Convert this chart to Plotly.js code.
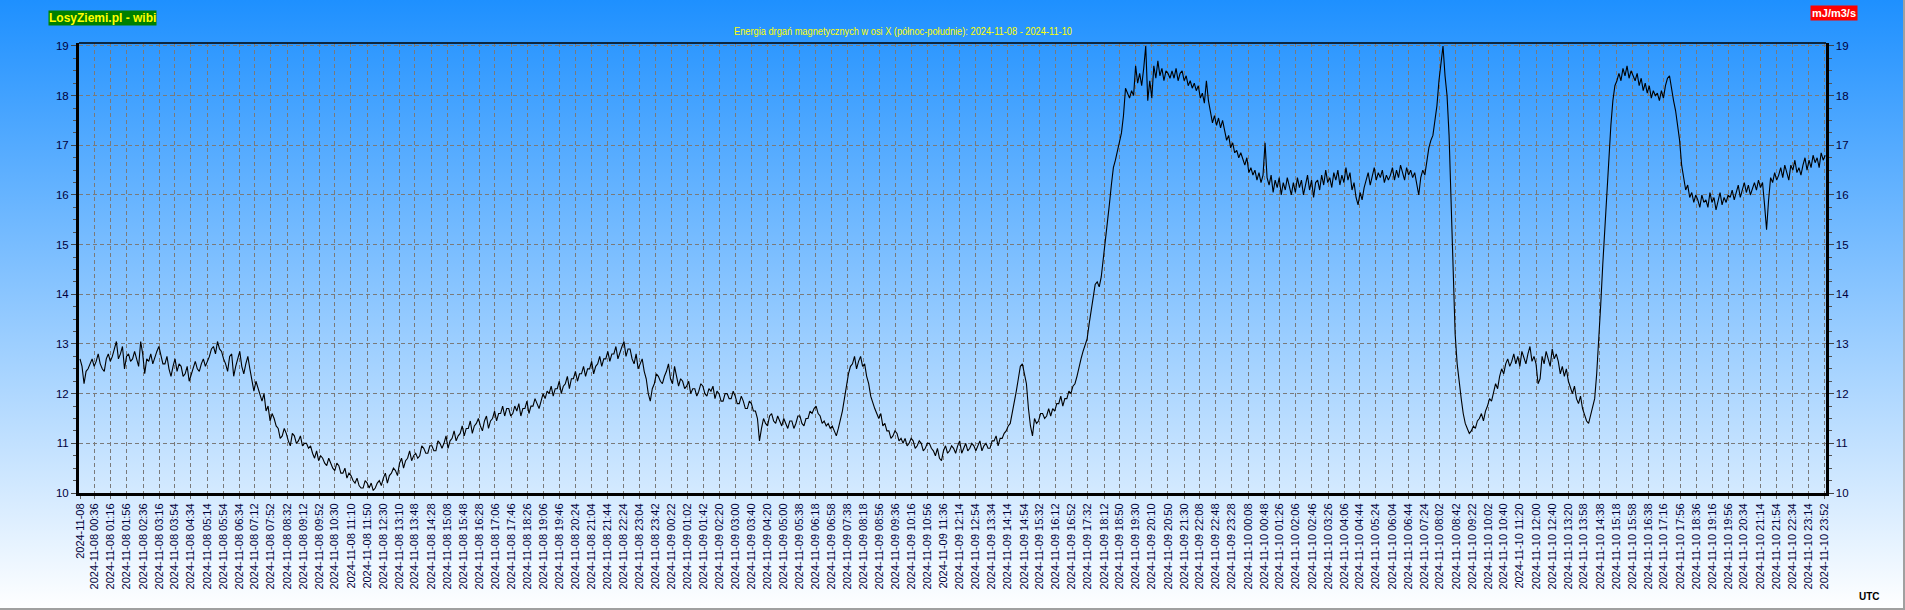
<!DOCTYPE html>
<html><head><meta charset="utf-8">
<script src="https://cdn.plot.ly/plotly-3.0.1.min.js"></script>
<style>
html,body{margin:0;padding:0;}
body{width:1905px;height:610px;overflow:hidden;}
#wrap{position:relative;width:1905px;height:610px;background:linear-gradient(to bottom,#1e90ff 0%,#ffffff 100%);}
#wrap:after{content:'';position:absolute;right:0;top:0;width:2px;height:610px;background:#a0a0a0;}
#wrap:before{content:'';position:absolute;left:0;bottom:0;width:1905px;height:2px;background:#a0a0a0;z-index:5;}
#chart{width:1905px;height:610px;}
</style></head>
<body><div id="wrap"><div id="chart"></div></div>
<script>
// ---- data: values every 5 minutes, starting 2024-11-08 00:00 UTC (one row = one hour) ----
const stepMinutes = 5;
const day1Values = [
 12.70,12.55,12.20,12.45,12.50,12.60,12.70,12.55,12.65,12.80,12.60,12.50,
 12.45,12.70,12.80,12.65,12.75,12.90,13.05,12.70,12.80,12.95,12.50,12.75,
 12.80,12.65,12.70,12.85,12.70,12.55,13.05,12.80,12.40,12.70,12.65,12.80,
 12.60,12.75,12.85,12.95,12.75,12.60,12.60,12.75,12.50,12.35,12.55,12.70,
 12.45,12.60,12.55,12.35,12.40,12.55,12.25,12.40,12.55,12.65,12.50,12.45,
 12.60,12.70,12.55,12.65,12.75,12.90,12.95,12.80,13.05,12.90,12.85,12.70,
 12.60,12.45,12.75,12.80,12.35,12.55,12.70,12.85,12.55,12.40,12.60,12.75,
 12.50,12.30,12.05,12.25,12.10,11.95,11.85,12.00,11.65,11.75,11.45,11.60,
 11.50,11.35,11.30,11.10,11.15,11.30,11.20,11.05,10.95,11.20,11.15,11.00,
 11.05,11.15,10.95,11.00,11.00,10.90,10.95,10.80,10.70,10.85,10.65,10.75,
 10.70,10.60,10.55,10.70,10.60,10.50,10.45,10.60,10.55,10.40,10.40,10.50,
 10.30,10.40,10.35,10.25,10.20,10.30,10.15,10.10,10.10,10.25,10.20,10.10,
 10.20,10.05,10.10,10.20,10.25,10.15,10.30,10.40,10.20,10.35,10.40,10.50,
 10.45,10.35,10.60,10.70,10.50,10.65,10.70,10.85,10.65,10.75,10.80,10.70,
 10.75,10.95,10.90,10.80,10.80,10.95,10.95,10.85,10.85,11.05,11.00,10.90,
 11.00,11.15,10.90,11.05,11.10,11.25,11.05,11.15,11.20,11.35,11.15,11.30,
 11.30,11.45,11.20,11.35,11.40,11.50,11.35,11.25,11.45,11.55,11.30,11.45,
 11.50,11.65,11.45,11.60,11.60,11.75,11.55,11.70,11.70,11.55,11.60,11.75,
 11.65,11.80,11.55,11.70,11.70,11.85,11.60,11.75,11.75,11.90,11.80,11.70,
 11.85,12.00,11.90,12.05,12.00,12.15,11.95,12.10,12.10,12.25,12.00,12.15,
 12.20,12.35,12.10,12.30,12.30,12.45,12.25,12.40,12.40,12.55,12.35,12.50,
 12.50,12.65,12.40,12.55,12.60,12.75,12.55,12.70,12.70,12.85,12.65,12.80,
 12.80,12.95,12.70,12.85,12.95,13.05,12.75,12.90,12.90,12.70,12.60,12.80,
 12.50,12.60,12.70,12.45,12.30,12.00,11.85,12.10,12.20,12.40,12.35,12.25
];
const day2Values = [
 12.20,12.35,12.45,12.60,12.30,12.20,12.55,12.35,12.15,12.30,12.25,12.10,
 12.15,12.25,12.00,12.10,12.10,11.95,12.05,12.20,12.15,12.00,11.95,12.10,
 12.05,12.15,11.90,12.05,12.00,11.85,11.85,12.00,12.00,11.90,11.90,12.05,
 11.95,11.80,11.80,11.95,11.85,11.70,11.70,11.85,11.80,11.65,11.65,11.50,
 11.05,11.30,11.50,11.40,11.35,11.55,11.60,11.45,11.40,11.55,11.45,11.35,
 11.50,11.40,11.30,11.45,11.45,11.30,11.40,11.55,11.55,11.40,11.35,11.50,
 11.50,11.65,11.60,11.70,11.75,11.60,11.55,11.40,11.45,11.35,11.40,11.30,
 11.35,11.25,11.15,11.30,11.45,11.65,11.90,12.20,12.40,12.55,12.60,12.75,
 12.50,12.65,12.75,12.55,12.60,12.35,12.20,11.95,11.80,11.70,11.60,11.50,
 11.60,11.35,11.40,11.25,11.25,11.10,11.15,11.25,11.20,11.05,11.10,11.00,
 11.10,10.95,11.00,11.10,11.05,10.90,10.95,11.05,11.00,10.85,10.90,11.00,
 11.00,10.90,10.85,10.75,10.90,10.70,10.65,10.85,10.95,10.80,10.85,10.95,
 10.90,10.80,10.95,11.05,10.80,10.90,11.00,10.85,10.90,11.00,10.95,10.85,
 10.95,11.05,10.85,10.95,11.00,10.90,10.90,11.05,11.05,11.15,10.95,11.10,
 11.10,11.20,11.25,11.35,11.40,11.60,11.80,12.05,12.30,12.55,12.60,12.40,
 12.20,11.70,11.35,11.15,11.50,11.40,11.45,11.60,11.60,11.50,11.55,11.70,
 11.55,11.70,11.65,11.80,11.80,11.95,11.75,11.90,11.90,12.05,12.00,12.15,
 12.20,12.35,12.55,12.70,12.85,13.00,13.10,13.40,13.70,14.00,14.20,14.25,
 14.15,14.35,14.70,15.00,15.40,15.80,16.20,16.55,16.70,16.90,17.05,17.25,
 17.60,18.15,18.05,17.95,18.10,18.00,18.60,18.25,18.45,18.20,18.55,19.00,
 17.90,18.30,17.95,18.60,18.35,18.70,18.40,18.55,18.30,18.50,18.45,18.35,
 18.50,18.35,18.55,18.30,18.45,18.50,18.30,18.40,18.20,18.30,18.15,18.25,
 18.10,18.20,17.95,18.05,17.85,18.30,17.90,17.70,17.45,17.60,17.40,17.55,
 17.35,17.50,17.30,17.10,17.20,16.95,17.05,16.85,16.90,16.75,16.85,16.70
];
const day3Values = [
 16.60,16.75,16.45,16.55,16.40,16.50,16.30,16.45,16.25,16.40,17.05,16.35,
 16.20,16.40,16.05,16.30,16.15,16.35,16.00,16.25,16.10,16.35,16.20,16.00,
 16.25,16.05,16.35,16.15,16.30,16.00,16.20,16.40,16.10,16.30,15.95,16.25,
 16.30,16.10,16.40,16.20,16.50,16.25,16.35,16.15,16.45,16.30,16.50,16.20,
 16.40,16.25,16.55,16.30,16.45,16.10,16.25,15.95,15.80,16.05,15.90,16.15,
 16.30,16.45,16.20,16.40,16.55,16.30,16.45,16.35,16.50,16.25,16.40,16.30,
 16.40,16.55,16.30,16.50,16.35,16.60,16.45,16.30,16.55,16.40,16.50,16.35,
 16.45,16.20,16.00,16.35,16.50,16.40,16.70,16.95,17.10,17.20,17.50,17.80,
 18.30,18.60,19.00,18.40,18.00,17.20,15.80,14.50,13.20,12.60,12.20,11.90,
 11.60,11.40,11.30,11.20,11.25,11.35,11.30,11.45,11.50,11.60,11.45,11.65,
 11.75,11.90,11.85,12.05,12.20,12.10,12.35,12.50,12.40,12.60,12.70,12.55,
 12.65,12.80,12.60,12.75,12.55,12.85,12.70,12.60,12.80,12.95,12.65,12.75,
 12.60,12.20,12.30,12.75,12.60,12.85,12.70,12.55,12.90,12.70,12.80,12.65,
 12.40,12.55,12.35,12.50,12.25,12.10,12.00,12.15,11.90,11.80,11.95,11.70,
 11.55,11.45,11.40,11.55,11.70,11.90,12.40,13.00,13.80,14.60,15.30,16.00,
 16.80,17.40,17.90,18.20,18.30,18.45,18.30,18.55,18.40,18.60,18.35,18.50,
 18.40,18.30,18.45,18.20,18.35,18.10,18.25,18.05,18.20,17.95,18.10,18.00,
 18.05,17.90,18.10,17.95,18.20,18.35,18.40,18.10,17.90,17.70,17.40,17.10,
 16.60,16.30,16.10,16.20,15.95,16.05,15.85,16.00,15.90,15.75,16.00,15.85,
 15.90,15.75,16.05,15.85,15.95,15.70,15.90,16.05,15.80,15.95,15.85,16.00,
 15.95,16.10,15.90,16.05,16.20,15.95,16.10,16.25,16.05,16.20,16.00,16.15,
 16.25,16.10,16.30,16.15,16.25,15.80,15.30,15.90,16.35,16.25,16.45,16.30,
 16.40,16.55,16.35,16.60,16.45,16.30,16.60,16.50,16.70,16.45,16.55,16.40,
 16.60,16.75,16.50,16.70,16.55,16.80,16.65,16.75,16.55,16.85,16.70,16.80
];
const tickLabels = [
 '2024-11-08',
 '2024-11-08 00:36','2024-11-08 01:16','2024-11-08 01:56','2024-11-08 02:36','2024-11-08 03:16','2024-11-08 03:54',
 '2024-11-08 04:34','2024-11-08 05:14','2024-11-08 05:54','2024-11-08 06:34','2024-11-08 07:12','2024-11-08 07:52',
 '2024-11-08 08:32','2024-11-08 09:12','2024-11-08 09:52','2024-11-08 10:30','2024-11-08 11:10','2024-11-08 11:50',
 '2024-11-08 12:30','2024-11-08 13:10','2024-11-08 13:48','2024-11-08 14:28','2024-11-08 15:08','2024-11-08 15:48',
 '2024-11-08 16:28','2024-11-08 17:06','2024-11-08 17:46','2024-11-08 18:26','2024-11-08 19:06','2024-11-08 19:46',
 '2024-11-08 20:24','2024-11-08 21:04','2024-11-08 21:44','2024-11-08 22:24','2024-11-08 23:04','2024-11-08 23:42',
 '2024-11-09 00:22','2024-11-09 01:02','2024-11-09 01:42','2024-11-09 02:20','2024-11-09 03:00','2024-11-09 03:40',
 '2024-11-09 04:20','2024-11-09 05:00','2024-11-09 05:38','2024-11-09 06:18','2024-11-09 06:58','2024-11-09 07:38',
 '2024-11-09 08:18','2024-11-09 08:56','2024-11-09 09:36','2024-11-09 10:16','2024-11-09 10:56','2024-11-09 11:36',
 '2024-11-09 12:14','2024-11-09 12:54','2024-11-09 13:34','2024-11-09 14:14','2024-11-09 14:54','2024-11-09 15:32',
 '2024-11-09 16:12','2024-11-09 16:52','2024-11-09 17:32','2024-11-09 18:12','2024-11-09 18:50','2024-11-09 19:30',
 '2024-11-09 20:10','2024-11-09 20:50','2024-11-09 21:30','2024-11-09 22:08','2024-11-09 22:48','2024-11-09 23:28',
 '2024-11-10 00:08','2024-11-10 00:48','2024-11-10 01:26','2024-11-10 02:06','2024-11-10 02:46','2024-11-10 03:26',
 '2024-11-10 04:06','2024-11-10 04:44','2024-11-10 05:24','2024-11-10 06:04','2024-11-10 06:44','2024-11-10 07:24',
 '2024-11-10 08:02','2024-11-10 08:42','2024-11-10 09:22','2024-11-10 10:02','2024-11-10 10:40','2024-11-10 11:20',
 '2024-11-10 12:00','2024-11-10 12:40','2024-11-10 13:20','2024-11-10 13:58','2024-11-10 14:38','2024-11-10 15:18',
 '2024-11-10 15:58','2024-11-10 16:38','2024-11-10 17:16','2024-11-10 17:56','2024-11-10 18:36','2024-11-10 19:16',
 '2024-11-10 19:56','2024-11-10 20:34','2024-11-10 21:14','2024-11-10 21:54','2024-11-10 22:34','2024-11-10 23:14',
 '2024-11-10 23:52'
];
const yTicks = [10,11,12,13,14,15,16,17,18,19];
const titleText = 'Energia drgań magnetycznych w osi X (północ-południe): 2024-11-08 - 2024-11-10';
const siteText = 'LosyZiemi.pl - wibi';
const unitText = 'mJ/m3/s';
const tzText = 'UTC';

// ---- build ----
const values = day1Values.concat(day2Values, day3Values);
function pad(n){return (n<10?'0':'')+n;}
const t0 = Date.UTC(2024,10,8,0,0,0);
const times = values.map((v,i)=>{
  const d = new Date(t0 + i*stepMinutes*60000);
  return d.getUTCFullYear()+'-'+pad(d.getUTCMonth()+1)+'-'+pad(d.getUTCDate())+' '+pad(d.getUTCHours())+':'+pad(d.getUTCMinutes());
});
const tickVals = tickLabels.map(s => s.length===10 ? s+' 00:00' : s);

const W=1905,H=610, ML=79, MR=79, MT=43, MB=117;
const PW=W-ML-MR, PH=H-MT-MB;
const px = x => (x-ML)/PW;
const py = y => (H-MB-y)/PH;

const FONT='Arial, "Liberation Sans", sans-serif';
const labelColor='#00003a';

const yCommon = {
  range:[10,19.06], tickvals:yTicks, ticktext:yTicks.map(String),
  ticks:'outside', ticklen:5, tickwidth:1, tickcolor:'#444',
  minor:{dtick:0.25, ticks:'outside', ticklen:3, tickcolor:'#555', showgrid:false},
  showline:true, linecolor:'#000', zeroline:false,
  tickfont:{family:FONT,size:11.5,color:labelColor}, fixedrange:true
};

const data = [
  {x:times, y:values, type:'scatter', mode:'lines', line:{color:'#000', width:1.1}, hoverinfo:'skip', showlegend:false},
  {x:[times[0]], y:[null], yaxis:'y2', type:'scatter', mode:'lines', hoverinfo:'skip', showlegend:false}
];

const layout = {
  width:W, height:H,
  margin:{l:ML, r:MR, t:MT, b:MB, pad:0},
  paper_bgcolor:'rgba(0,0,0,0)', plot_bgcolor:'rgba(0,0,0,0)',
  showlegend:false,
  xaxis:{
    type:'date', range:['2024-11-07 23:57:32','2024-11-10 23:56:56'],
    tickmode:'array', tickvals:tickVals, ticktext:tickLabels, tickangle:-90,
    ticks:'outside', ticklen:3, tickcolor:'#666',
    tickfont:{family:FONT,size:11,color:labelColor},
    showgrid:true, gridcolor:'#7a7a7a', gridwidth:1, griddash:'4px,3px',
    showline:true, linecolor:'#000', linewidth:3, zeroline:false, fixedrange:true
  },
  yaxis:Object.assign({}, yCommon, {side:'left', linewidth:3,
    showgrid:true, gridcolor:'#7a7a7a', gridwidth:1, griddash:'4px,3px'}),
  yaxis2:Object.assign({}, yCommon, {side:'right', overlaying:'y', linewidth:2.5, showgrid:false}),
  shapes:[
    {type:'line', xref:'paper', yref:'paper', x0:0, x1:1, y0:1, y1:1, line:{color:'#000', width:1.5}}
  ],
  annotations:[
    {text:titleText, xref:'paper', yref:'paper', x:px(903), y:py(31), xanchor:'center', yanchor:'middle',
     showarrow:false, font:{family:FONT, size:11, color:'#ffff00'}},
    {text:'<b>'+siteText+'</b>', xref:'paper', yref:'paper', x:px(48), y:py(10), xanchor:'left', yanchor:'top',
     showarrow:false, bgcolor:'#008000', borderpad:0, font:{family:FONT, size:12, color:'#ffff00'}},
    {text:'<b>'+unitText+'</b>', xref:'paper', yref:'paper', x:px(1810), y:py(5), xanchor:'left', yanchor:'top',
     showarrow:false, bgcolor:'#ff0000', borderpad:1, font:{family:FONT, size:11, color:'#ffffff'}},
    {text:'<b>'+tzText+'</b>', xref:'paper', yref:'paper', x:px(1869), y:py(596), xanchor:'center', yanchor:'middle',
     showarrow:false, font:{family:FONT, size:10, color:'#000'}}
  ]
};

Plotly.newPlot('chart', data, layout, {displayModeBar:false, staticPlot:true}).then(gd => {
  // condensed title lettering, as in the original
  const t = gd.querySelectorAll('.annotation-text')[0];
  if (t) { t.setAttribute('textLength','338'); t.setAttribute('lengthAdjust','spacingAndGlyphs'); }
});
</script>
</body></html>
